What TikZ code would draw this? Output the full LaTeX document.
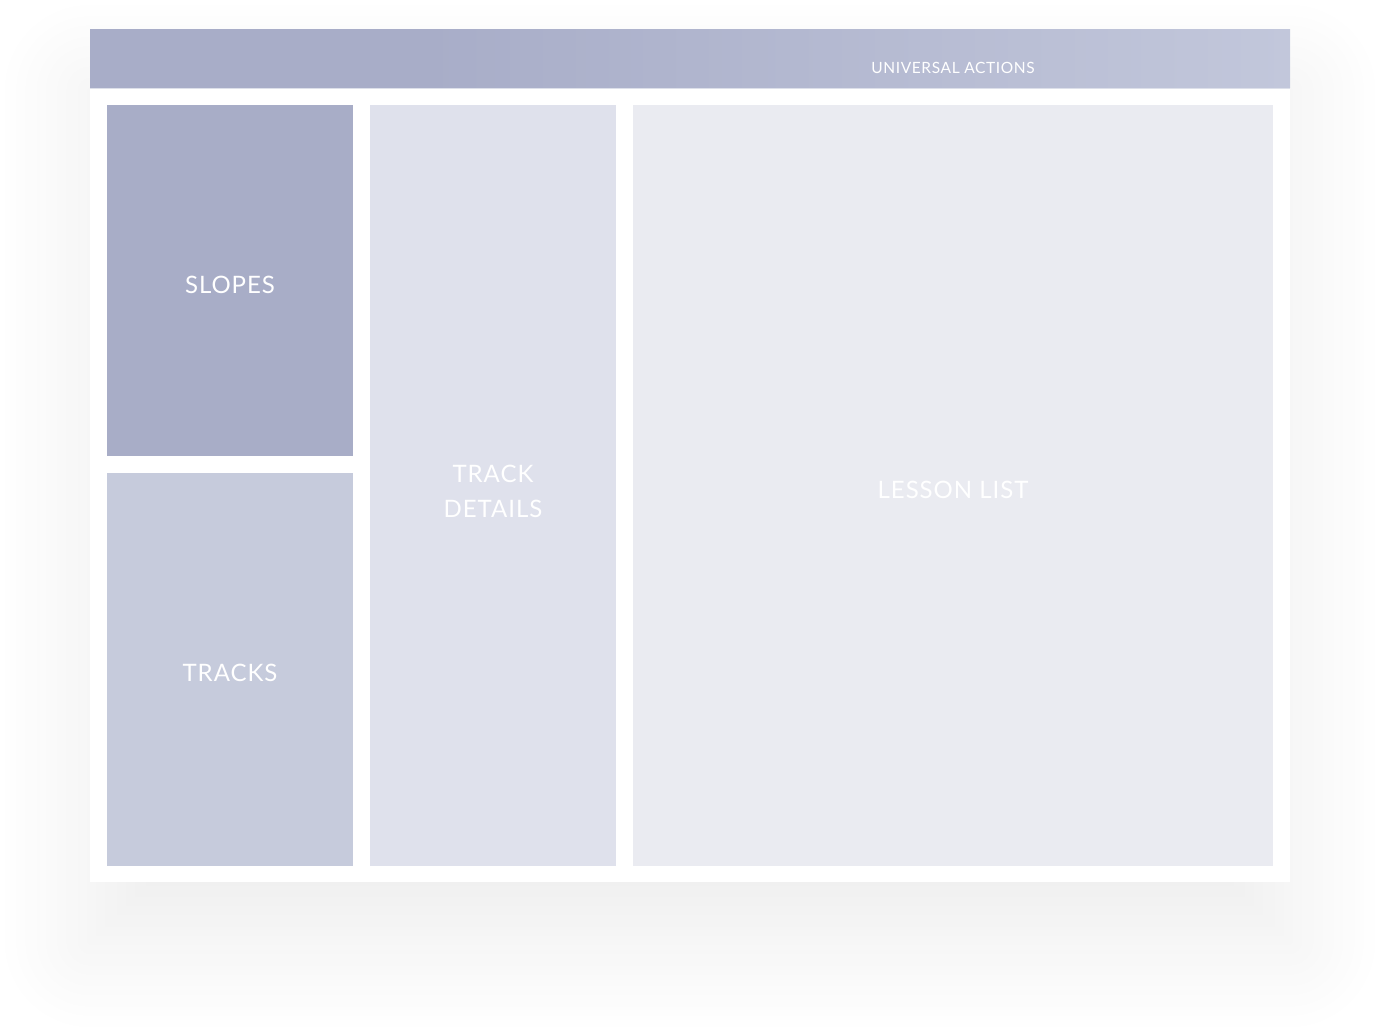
\documentclass[tikz,border=0pt]{standalone}
\usepackage{fontspec}
\setmainfont{Lato}
\newfontfamily\uifont[LetterSpace=4]{Lato}
\usepackage{tikz}
\usetikzlibrary{shadows.blur}

\definecolor{hdrA}{HTML}{A8ADC8}
\definecolor{hdrB}{HTML}{C2C7DB}
\definecolor{hdrline}{HTML}{DDE0EA}
\definecolor{slopesfill}{HTML}{A8ADC7}
\definecolor{tracksfill}{HTML}{C6CBDC}
\definecolor{detailsfill}{HTML}{DFE1EC}
\definecolor{lessonfill}{HTML}{EAEBF1}

\pgfdeclarehorizontalshading{hdrshade}{100bp}{color(0bp)=(hdrA); color(25bp)=(hdrA); color(39bp)=(hdrA); color(75bp)=(hdrB); color(100bp)=(hdrB)}

\begin{document}
\begin{tikzpicture}[x=1pt,y=-1pt,
	pane/.style={rectangle,draw=none,inner sep=0pt,outer sep=0pt},
	lbl/.style={text=white,inner sep=0pt,align=center,
		font=\uifont\fontsize{24}{35}\selectfont}]

		\useasboundingbox (0,0) rectangle (1380,1032);

		% window with its soft shadow
		\fill[white,blur shadow={shadow xshift=0pt,shadow yshift=-60pt,
			shadow blur radius=90pt,shadow blur steps=40,shadow opacity=7}]
			(90,30) rectangle (1290,882);

		% header bar
		\shade[shading=hdrshade] (90,30) rectangle (1290,88);
		\draw[hdrline,line width=1.5pt] (90,88.5) -- (1290,88.5);
		\node[lbl,font=\uifont\fontsize{15.5}{18}\selectfont] (actions) at (953,68)
			{UNIVERSAL ACTIONS};

		% panes
		\node[pane,fill=slopesfill,minimum width=246pt,minimum height=351pt]
			(slopes) at (230,280.5) {};
		\node[pane,fill=tracksfill,minimum width=246pt,minimum height=393pt]
			(tracks) at (230,669.5) {};
		\node[pane,fill=detailsfill,minimum width=246pt,minimum height=761pt]
			(details) at (493,485.5) {};
		\node[pane,fill=lessonfill,minimum width=640pt,minimum height=761pt]
			(lesson) at (953,485.5) {};

		\node[lbl] (slopestext) at ([yshift=-4.5pt]slopes.center) {SLOPES};
		\node[lbl] (trackstext) at ([yshift=-3.5pt]tracks.center) {TRACKS};
		\node[lbl] (detailstext) at ([yshift=-6pt]details.center) {TRACK\\DETAILS};
		\node[lbl] (lessontext) at ([yshift=-4pt]lesson.center) {LESSON LIST};
	\end{tikzpicture}
\end{document}
